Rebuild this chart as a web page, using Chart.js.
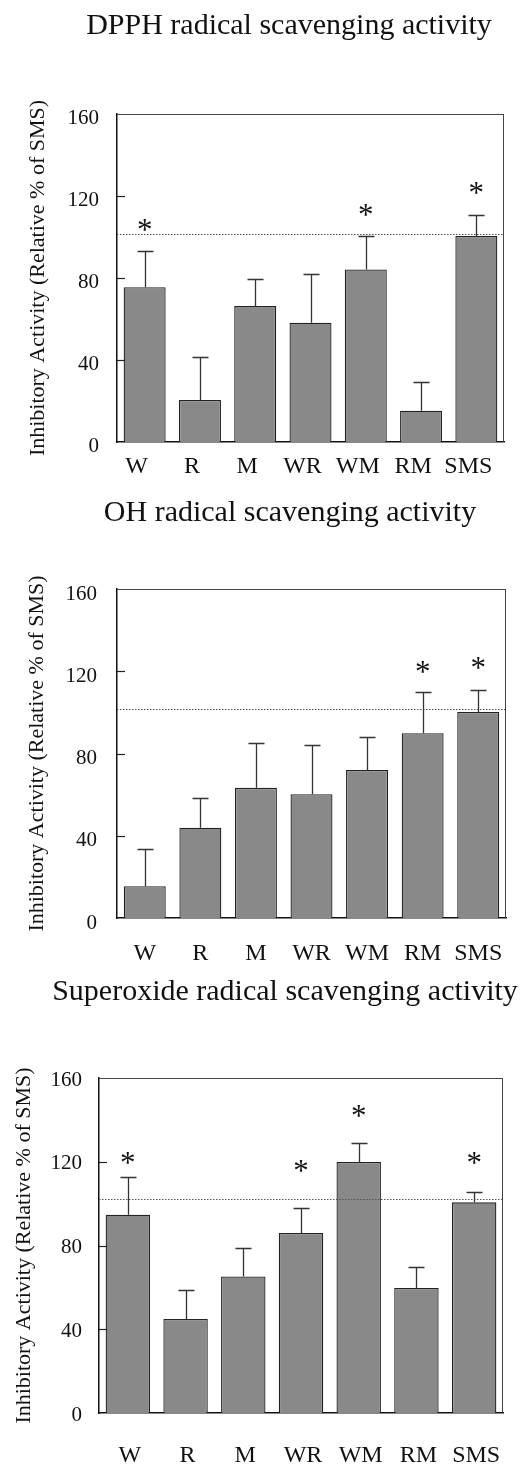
<!DOCTYPE html>
<html><head><meta charset="utf-8">
<script src="https://cdn.jsdelivr.net/npm/chart.js@4/dist/chart.umd.min.js"></script>
<style>
html,body{margin:0;padding:0;background:#fff;}
body{width:528px;height:1465px;position:relative;overflow:hidden;}
.panel{position:absolute;left:0;width:528px;}
</style></head><body>
<div class="panel" style="top:0;height:480px"><canvas id="c1"></canvas></div>
<div class="panel" style="top:480px;height:490px"><canvas id="c2"></canvas></div>
<div class="panel" style="top:970px;height:495px"><canvas id="c3"></canvas></div>
<script>
// ---- data ----
const categories = ['W', 'R', 'M', 'WR', 'WM', 'RM', 'SMS'];
const yTicks = [0, 40, 80, 120, 160];
const yTitle = 'Inhibitory Activity (Relative % of SMS)';

const dpphTitle = 'DPPH radical scavenging activity';
const dpphMean = [75.5, 20.5, 66.3, 58.2, 84.2, 15.3, 100.5];
const dpphSD   = [17.7, 21.0, 13.1, 23.6, 16.1, 13.8, 10.1];
const dpphStar = [107, null, null, null, 114, null, 125];
const dpphRef  = 101.3;

const ohTitle = 'OH radical scavenging activity';
const ohMean = [15.5, 43.9, 63.3, 60.2, 72.0, 89.9, 100.2];
const ohSD   = [17.9, 14.3, 21.8, 24.0, 16.1, 20.1, 10.5];
const ohStar = [null, null, null, null, null, 123, 125];
const ohRef  = 101.7;

const supTitle = 'Superoxide radical scavenging activity';
const supMean = [94.7, 44.9, 65.2, 86.0, 119.9, 59.7, 100.6];
const supSD   = [18.0, 14.0, 13.6, 12.0, 9.1, 10.0, 4.8];
const supStar = [122.6, null, null, 119, 145, null, 122.6];
const supRef  = 102.0;

const SERIF = "'Liberation Serif', 'Times New Roman', serif";

const decor = {
  id: 'decor',
  afterDatasetsDraw(chart, args, o) {
    const {ctx, chartArea: a, scales: {x, y}} = chart;
    ctx.save();
    // reference dotted line
    const ry = Math.round(y.getPixelForValue(o.ref)) + 0.5;
    ctx.strokeStyle = '#555'; ctx.lineWidth = 1.2; ctx.setLineDash([1.5, 1.5]);
    ctx.beginPath(); ctx.moveTo(a.left, ry); ctx.lineTo(a.right, ry); ctx.stroke();
    ctx.setLineDash([]);
    // error bars (upper only)
    ctx.strokeStyle = '#333'; ctx.lineWidth = 1.3;
    o.mean.forEach((m, i) => {
      const px = Math.round(x.getPixelForValue(i)) + 0.5;
      const y0 = y.getPixelForValue(m);
      const y1 = Math.round(y.getPixelForValue(m + o.sd[i])) + 0.5;
      ctx.beginPath();
      ctx.moveTo(px, y0); ctx.lineTo(px, y1);
      ctx.moveTo(px - 8, y1); ctx.lineTo(px + 8, y1);
      ctx.stroke();
    });
    // stars
    const fs = 31;
    ctx.fillStyle = '#111'; ctx.font = fs + 'px ' + SERIF;
    ctx.textAlign = 'center'; ctx.textBaseline = 'alphabetic';
    o.stars.forEach((s, i) => {
      if (s == null) return;
      ctx.fillText('*', x.getPixelForValue(i), y.getPixelForValue(s) + 0.55 * fs);
    });
    // box top/right
    ctx.strokeStyle = '#444'; ctx.lineWidth = 1;
    ctx.beginPath();
    ctx.moveTo(a.left, a.top + 0.5); ctx.lineTo(a.right, a.top + 0.5);
    ctx.moveTo(a.right - 0.5, a.top); ctx.lineTo(a.right - 0.5, a.bottom);
    ctx.stroke();
    // inward ticks
    ctx.strokeStyle = '#222'; ctx.lineWidth = 1.2;
    y.ticks.forEach(t => {
      if (t.value <= 0 || t.value >= 160) return;
      const ty = Math.round(y.getPixelForValue(t.value)) + 0.5;
      ctx.beginPath(); ctx.moveTo(a.left, ty); ctx.lineTo(a.left + 8, ty); ctx.stroke();
    });
    ctx.restore();
  },
  afterDraw(chart, args, o) {
    const ctx = chart.ctx;
    ctx.save();
    ctx.fillStyle = '#111'; ctx.font = '30px ' + SERIF;
    ctx.textAlign = 'center'; ctx.textBaseline = 'middle';
    ctx.fillText(o.title, o.titleX, o.titleY);
    ctx.restore();
  }
};

function makePanel(id, title, mean, sd, stars, ref, g) {
  return new Chart(document.getElementById(id), {
    type: 'bar',
    data: {
      labels: categories,
      datasets: [{
        data: mean,
        backgroundColor: '#898989',
        borderColor: '#222',
        borderWidth: 1.3,
        barPercentage: g.barPct,
        categoryPercentage: 1
      }]
    },
    plugins: [decor],
    options: {
      responsive: true,
      maintainAspectRatio: false,
      animation: false,
      layout: {padding: {left: 0, right: 528 - g.R, top: g.T, bottom: 0}},
      plugins: {
        legend: {display: false},
        tooltip: {enabled: false},
        title: {display: false},
        decor: {mean, sd, stars, ref, title, titleX: g.titleX, titleY: g.titleY}
      },
      scales: {
        x: {
          type: 'category',
          offset: true,
          grid: {display: false, drawTicks: false},
          border: {display: true, color: '#111', width: 1.5},
          ticks: {color: '#111', font: {family: SERIF, size: 24}, padding: g.xPad,
                  labelOffset: g.xOff, maxRotation: 0, autoSkip: false},
          afterFit: s => { s.height = g.H - g.B; }
        },
        y: {
          min: 0, max: 160,
          afterBuildTicks: s => { s.ticks = yTicks.map(v => ({value: v})); },
          grid: {display: false, drawTicks: false},
          border: {display: true, color: '#111', width: 1.5},
          ticks: {color: '#111', font: {family: SERIF, size: 21}, padding: g.yPad,
                  labelOffset: g.yOff},
          title: {display: true, text: yTitle, color: '#111',
                  font: {family: SERIF, size: 22}, padding: {top: g.yTitlePad, bottom: 0}},
          afterFit: s => { s.width = g.L; }
        }
      }
    }
  });
}

makePanel('c1', dpphTitle, dpphMean, dpphSD, dpphStar, dpphRef,
  {H: 480, L: 117, R: 504, T: 114, B: 442, titleX: 289, titleY: 26,
   yPad: 18, yOff: 4, yTitlePad: 25, xPad: 10, xOff: -8, barPct: 0.76});
makePanel('c2', ohTitle, ohMean, ohSD, ohStar, ohRef,
  {H: 490, L: 117, R: 506, T: 109, B: 438, titleX: 290, titleY: 33,
   yPad: 20, yOff: 5, yTitlePad: 24, xPad: 21, xOff: 0, barPct: 0.755});
makePanel('c3', supTitle, supMean, supSD, supStar, supRef,
  {H: 495, L: 99, R: 503, T: 108, B: 443, titleX: 285, titleY: 22,
   yPad: 17, yOff: 2, yTitlePad: 11, xPad: 28, xOff: 2, barPct: 0.77});
</script>
</body></html>
